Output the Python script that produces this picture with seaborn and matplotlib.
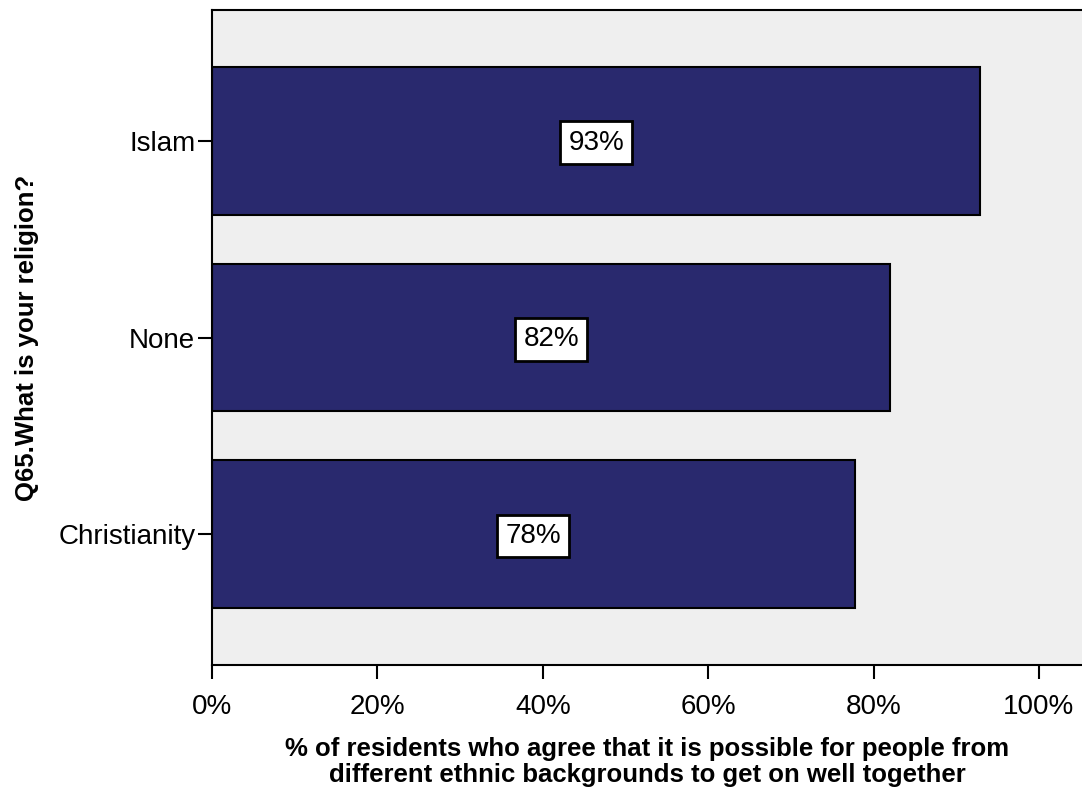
import matplotlib
matplotlib.use("Agg")
import matplotlib.pyplot as plt
import seaborn as sns
import pandas as pd

categories = ["Islam", "None", "Christianity"]
values = [92.9, 82.0, 77.7]
value_labels = ["93%", "82%", "78%"]
tick_values = [0, 20, 40, 60, 80, 100]
tick_labels = ["0%", "20%", "40%", "60%", "80%", "100%"]

sns.set_style("white")
plt.rcParams['font.family'] = ['Liberation Sans', 'DejaVu Sans']
plt.rcParams['text.color'] = 'black'
plt.rcParams['axes.labelcolor'] = 'black'
plt.rcParams['xtick.color'] = 'black'
plt.rcParams['ytick.color'] = 'black'

df = pd.DataFrame({"religion": categories, "pct": values})

fig = plt.figure(figsize=(10.82, 7.94), dpi=100)
ax = fig.add_axes([212/1082, 1 - 665/794, 1 - 212/1082, 655/794])
ax.set_facecolor("#EFEFEF")

sns.barplot(data=df, y="religion", x="pct", orient="h", order=categories,
            color="#29296E", saturation=1, width=0.75, edgecolor="black",
            linewidth=1.5, ax=ax)

for i, (v, lab) in enumerate(zip(values, value_labels)):
    ax.text(v / 2, i + 0.01, lab, ha="center", va="center", fontsize=20, color="black",
            bbox=dict(boxstyle="square,pad=0.3", facecolor="white", edgecolor="black", linewidth=2))

ax.set_xlim(0, 105.2)
ax.set_ylim(2.665, -0.665)
ax.set_xticks(tick_values)
ax.set_xticklabels(tick_labels, fontsize=20)
ax.tick_params(axis="y", labelsize=20, length=10, pad=2)
ax.tick_params(axis="both", direction="out", width=1.5, color="black",
               left=True, bottom=True)
ax.tick_params(axis="x", length=10, pad=11)

for s in ["left", "top", "bottom"]:
    ax.spines[s].set_visible(True)
    ax.spines[s].set_color("black")
    ax.spines[s].set_linewidth(1.5)
ax.spines["right"].set_visible(False)

ax.set_xlabel("% of residents who agree that it is possible for people from\ndifferent ethnic backgrounds to get on well together",
              fontsize=18.5, fontweight="bold", labelpad=12, linespacing=1.1)
ax.set_ylabel("Q65.What is your religion?", fontsize=18.5, fontweight="bold", labelpad=14)

fig.savefig("out.png", dpi=100)
